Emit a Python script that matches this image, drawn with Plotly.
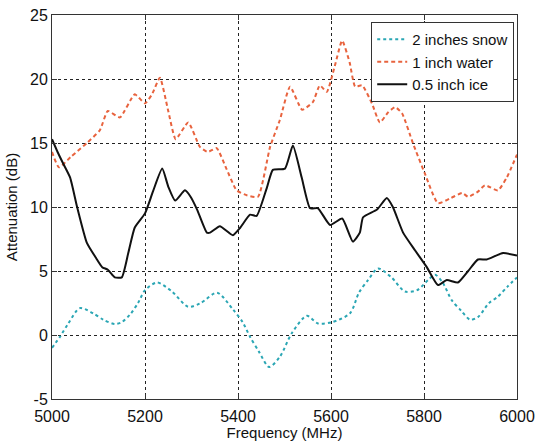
import plotly.graph_objects as go

# Attenuation measurements vs. frequency for three surface coverings
snow_freq = [5000, 5017, 5035, 5060, 5088, 5110, 5135, 5150, 5168, 5185, 5200, 5226, 5258, 5293,
             5320, 5355, 5389, 5410, 5426, 5445, 5467, 5490, 5516, 5548, 5572, 5602, 5641, 5660,
             5680, 5701, 5730, 5759, 5785, 5809, 5824, 5840, 5860, 5880, 5899, 5916, 5940, 5959,
             5980, 6000]
snow_db = [-1.0, -0.15, 0.9, 2.1, 1.7, 1.2, 0.86, 1.0, 1.6, 2.5, 3.5, 4.1, 3.4, 2.2,
           2.5, 3.3, 2.0, 1.0, -0.15, -1.3, -2.5, -1.7, 0.16, 1.5, 0.9, 1.0, 1.7, 3.3,
           4.3, 5.2, 4.5, 3.4, 3.5, 4.3, 4.7, 4.1, 2.7, 1.9, 1.2, 1.4, 2.5, 3.0,
           3.8, 4.5]

water_freq = [5000, 5015, 5040, 5075, 5103, 5120, 5146, 5178, 5200, 5215, 5232, 5250, 5266, 5293,
              5318, 5335, 5354, 5375, 5397, 5420, 5443, 5469, 5490, 5512, 5538, 5561, 5576, 5591,
              5608, 5624, 5640, 5652, 5667, 5688, 5705, 5723, 5738, 5753, 5776, 5802, 5830, 5858,
              5882, 5895, 5916, 5931, 5959, 5978, 6000]
water_db = [14.3, 13.1, 13.9, 15.0, 16.0, 17.5, 17.0, 18.8, 18.1, 18.8, 20.1, 17.5, 15.3, 16.6,
            14.7, 14.3, 14.6, 13.0, 11.3, 10.9, 10.8, 14.7, 16.8, 19.4, 17.6, 18.2, 19.5, 19.0,
            21.0, 23.0, 21.3, 19.4, 19.5, 18.1, 16.6, 17.4, 17.8, 17.3, 15.0, 12.6, 10.3, 10.7,
            11.1, 10.8, 11.2, 11.7, 11.3, 12.3, 14.1]

ice_freq = [5000, 5012, 5024, 5039, 5054, 5075, 5095, 5108, 5120, 5135, 5150, 5164, 5178, 5200,
            5217, 5237, 5250, 5265, 5286, 5298, 5312, 5333, 5340, 5361, 5389, 5405, 5426, 5440,
            5462, 5475, 5501, 5518, 5537, 5555, 5572, 5598, 5624, 5647, 5662, 5669, 5699, 5720,
            5733, 5755, 5781, 5806, 5830, 5849, 5873, 5895, 5916, 5935, 5970, 6000]
ice_db = [15.3, 14.3, 13.4, 12.3, 10.0, 7.2, 6.0, 5.3, 5.1, 4.5, 4.5, 6.4, 8.4, 9.5,
          11.2, 13.0, 11.6, 10.5, 11.3, 10.8, 9.8, 8.0, 8.0, 8.5, 7.8, 8.4, 9.4, 9.3,
          11.5, 12.9, 13.0, 14.8, 12.3, 9.9, 9.9, 8.6, 9.1, 7.3, 8.0, 9.2, 9.8, 10.7,
          10.0, 8.0, 6.6, 5.3, 3.9, 4.3, 4.1, 5.0, 5.9, 5.9, 6.4, 6.2]

x_ticks = [5000, 5200, 5400, 5600, 5800, 6000]
y_ticks = [-5, 0, 5, 10, 15, 20, 25]
y_tick_text = ["-5", "0", "5", "10", "15", "20", "25"]

font_family = "Liberation Sans, Arial, sans-serif"

fig = go.Figure()
fig.add_trace(go.Scatter(
    x=snow_freq, y=snow_db, name="2 inches snow", mode="lines",
    line=dict(color="#2aa6b4", width=2, dash="dot", shape="spline", smoothing=0.8)))
fig.add_trace(go.Scatter(
    x=water_freq, y=water_db, name="1 inch water", mode="lines",
    line=dict(color="#e8633e", width=2, dash="4px,3px", shape="spline", smoothing=0.5)))
fig.add_trace(go.Scatter(
    x=ice_freq, y=ice_db, name="0.5 inch ice", mode="lines",
    line=dict(color="#111111", width=2, shape="spline", smoothing=0.5)))

axis_common = dict(
    showline=True, linecolor="#333333", linewidth=1, mirror="ticks",
    ticks="inside", ticklen=5, tickcolor="#333333",
    showgrid=True, gridcolor="#222222", gridwidth=1, griddash="dot",
    zeroline=False, automargin=False,
    tickfont=dict(family=font_family, size=16, color="#111111"),
)

fig.update_layout(
    width=535, height=441,
    margin=dict(l=52, r=18, t=15, b=42),
    paper_bgcolor="white", plot_bgcolor="white",
    font=dict(family=font_family, size=15, color="#111111"),
    showlegend=True,
    legend=dict(
        x=0.994, y=0.982, xanchor="right", yanchor="top",
        bgcolor="white", bordercolor="#333333", borderwidth=1,
        font=dict(family=font_family, size=15, color="#111111"),
        tracegroupgap=0, itemwidth=30,
    ),
    xaxis=dict(range=[5000, 6000], tickvals=x_ticks, ticklabelstandoff=3,
               title=dict(text="Frequency (MHz)", standoff=0,
                          font=dict(family=font_family, size=15)),
               **axis_common),
    yaxis=dict(range=[-5, 25], tickvals=y_ticks, ticktext=y_tick_text,
               title=dict(text="Attenuation (dB)", standoff=8,
                          font=dict(family=font_family, size=15)),
               **axis_common),
)

fig.write_html("out.html")
